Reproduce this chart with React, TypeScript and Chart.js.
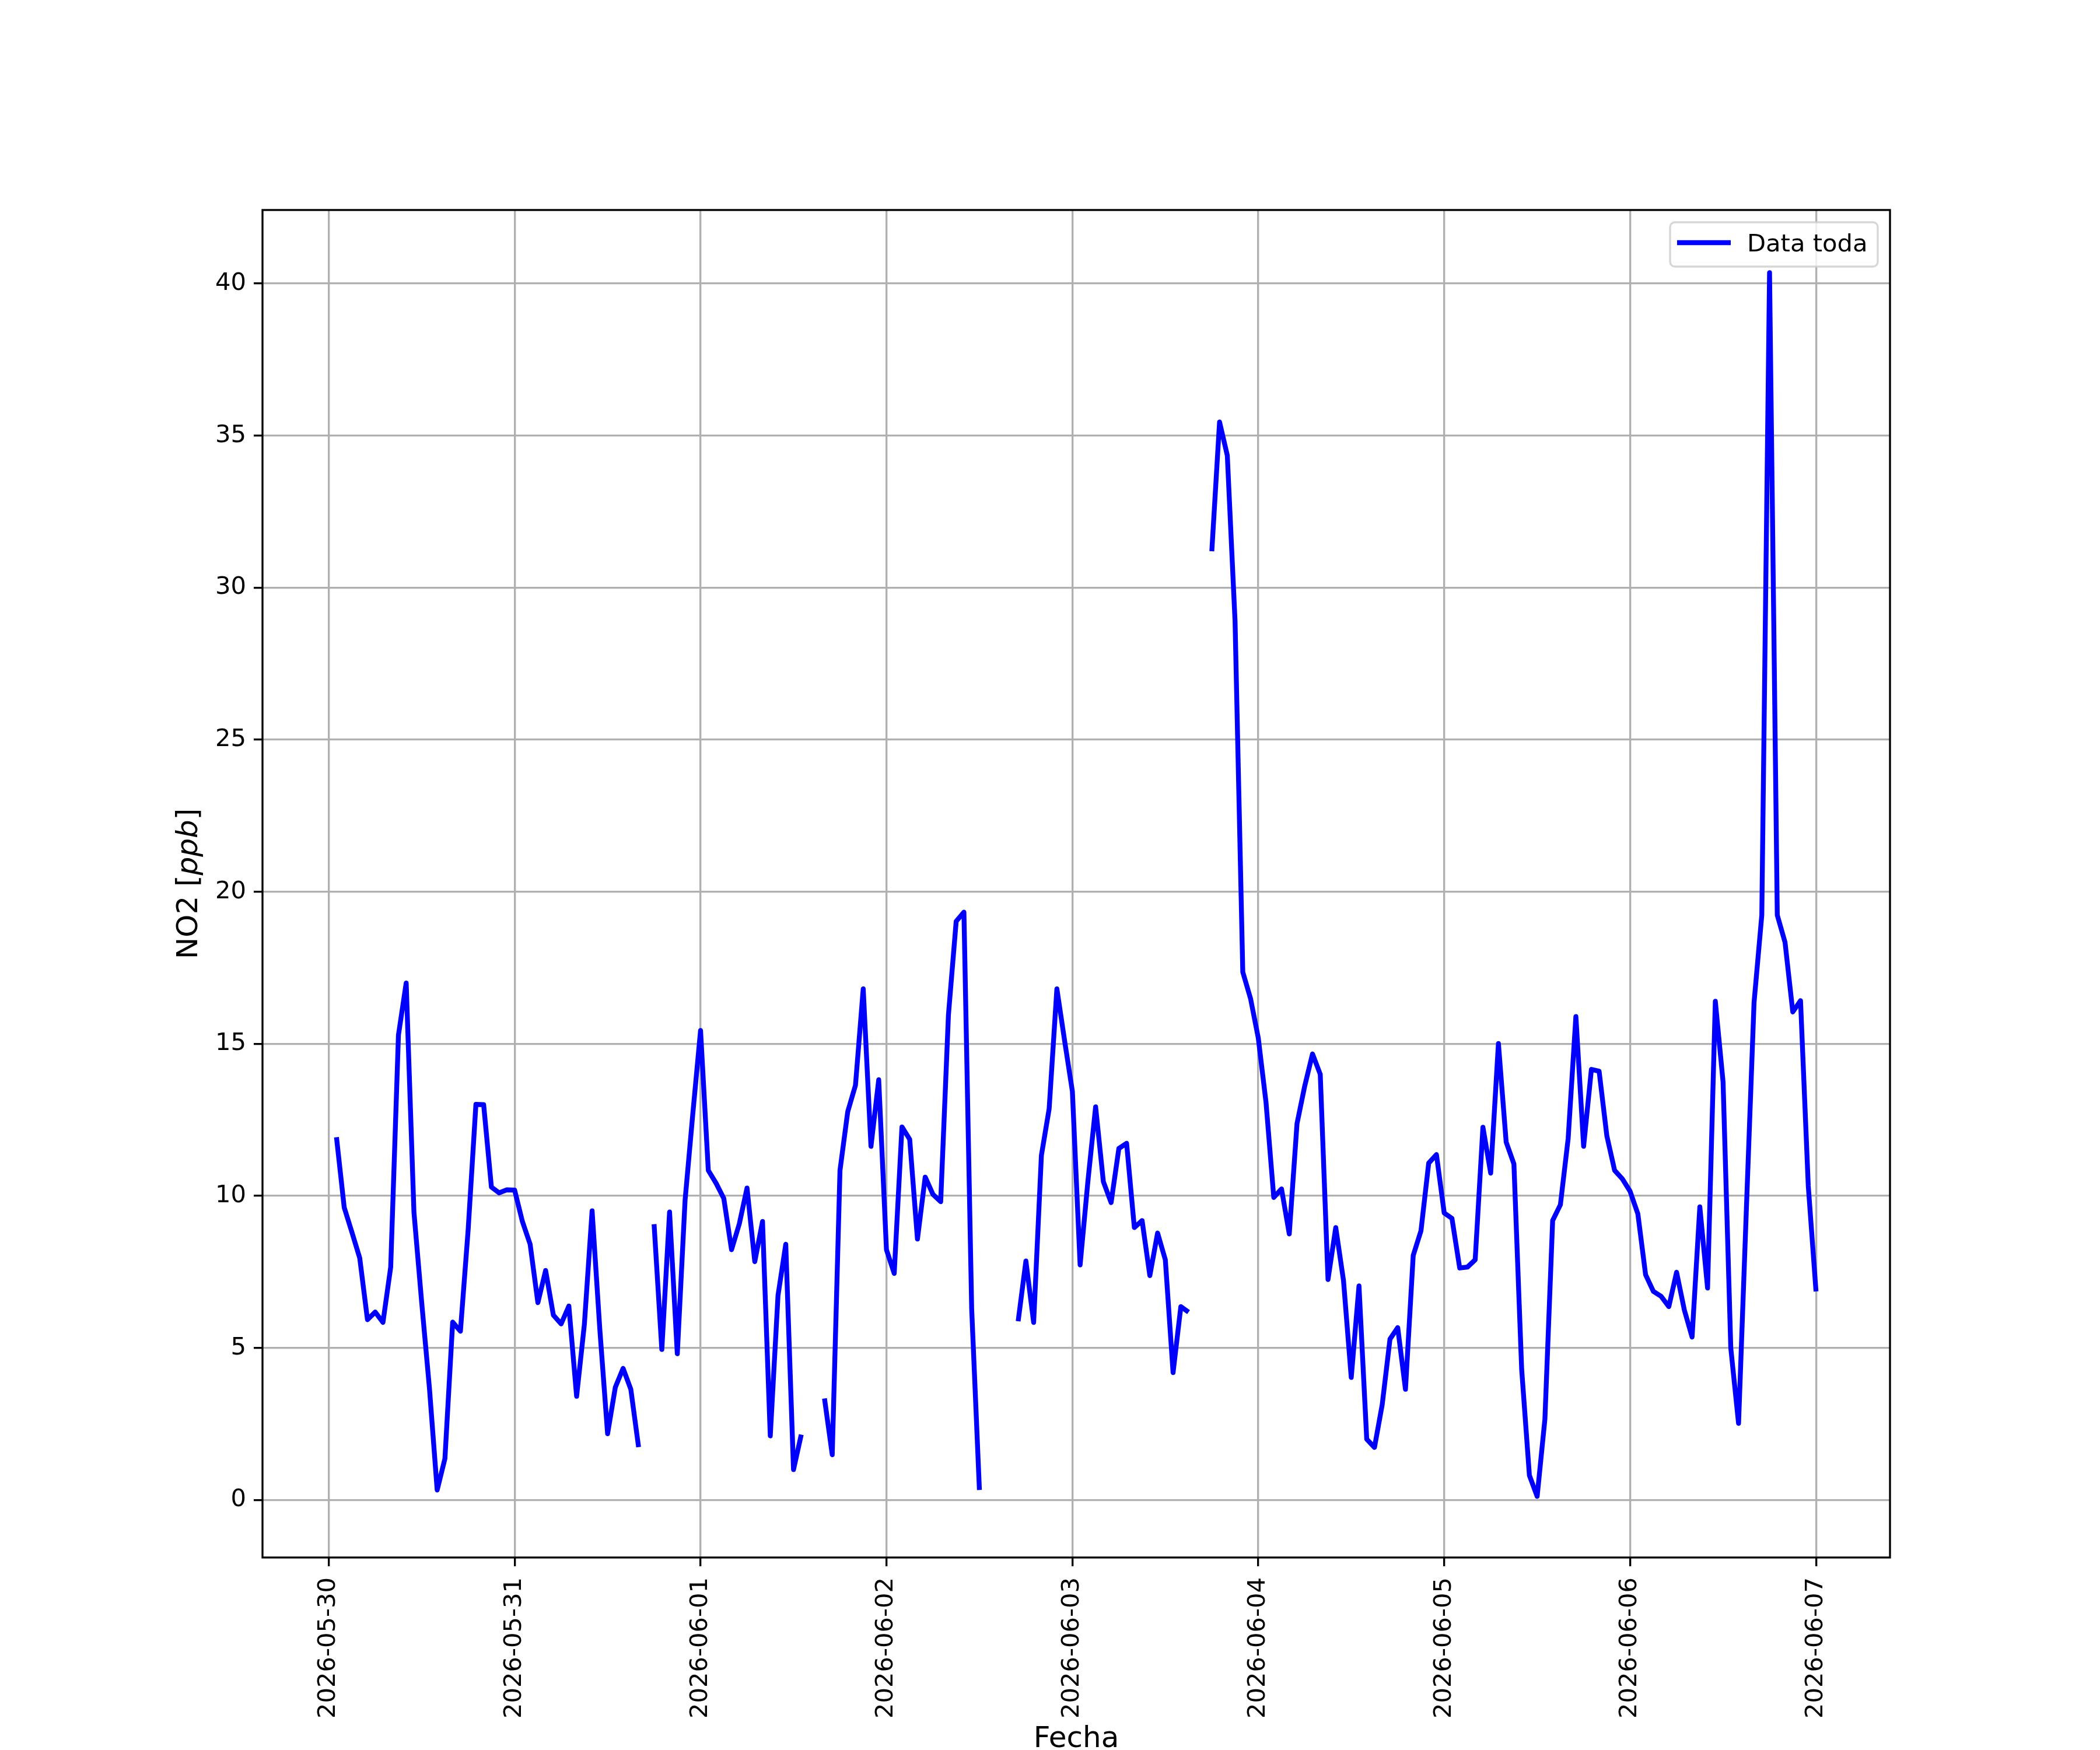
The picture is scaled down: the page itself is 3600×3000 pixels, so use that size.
import React, { useEffect, useRef } from 'react';
import { Chart, registerables } from 'chart.js';

Chart.register(...registerables);

// Tick labels / positions (hours since 2026-05-30 00:00)
const dayLabels = [
  '2026-05-30', '2026-05-31', '2026-06-01', '2026-06-02', '2026-06-03',
  '2026-06-04', '2026-06-05', '2026-06-06', '2026-06-07',
];
const dayTicks = [0, 24, 48, 72, 96, 120, 144, 168, 192];
const yTicks = [0, 5, 10, 15, 20, 25, 30, 35, 40];

const seriesLabel = 'Data toda';

// Hourly NO2 values [ppb] from 2026-05-30 01:00 to 2026-06-07 00:00 (null = missing)
const no2: (number | null)[] = [
  // 05-30 01..24
  11.93, 9.62, 8.8, 7.96, 5.93, 6.18, 5.84, 7.66, 15.29, 17.0, 9.47, 6.5,
  3.68, 0.33, 1.36, 5.85, 5.55, 8.89, 13.01, 13.0, 10.29, 10.1, 10.2, 10.19,
  // 05-31 01..24
  9.16, 8.41, 6.49, 7.55, 6.08, 5.79, 6.38, 3.41, 5.77, 9.51, 5.6, 2.18,
  3.71, 4.33, 3.64, 1.74, null, 9.07, 4.95, 9.47, 4.81, 9.85, 12.7, 15.44,
  // 06-01 01..24
  10.84, 10.42, 9.92, 8.23, 9.08, 10.26, 7.84, 9.16, 2.11, 6.73, 8.41, 1.0,
  2.15, null, null, 3.34, 1.49, 10.84, 12.77, 13.64, 16.81, 11.63, 13.82, 8.23,
  // 06-02 01..24
  7.45, 12.27, 11.86, 8.58, 10.62, 10.05, 9.81, 15.95, 19.03, 19.33, 6.29, 0.33,
  null, null, null, null, 5.88, 7.86, 5.84, 11.33, 12.86, 16.81, 15.1, 13.44,
  // 06-03 01..24
  7.73, 10.47, 12.93, 10.47, 9.78, 11.56, 11.73, 8.96, 9.19, 7.38, 8.78, 7.9,
  4.19, 6.36, 6.18, null, null, 31.2, 35.45, 34.35, 28.9, 17.36, 16.49, 15.19,
  // 06-04 01..24
  13.07, 9.95, 10.23, 8.75, 12.38, 13.62, 14.67, 14.0, 7.25, 8.96, 7.22, 4.03,
  7.04, 2.0, 1.73, 3.14, 5.29, 5.67, 3.64, 8.04, 8.85, 11.08, 11.36, 9.44,
  // 06-05 01..24
  9.26, 7.63, 7.66, 7.9, 12.26, 10.75, 15.01, 11.77, 11.05, 4.3, 0.81, 0.12,
  2.66, 9.19, 9.71, 11.88, 15.9, 11.63, 14.16, 14.1, 11.97, 10.84, 10.56, 10.15,
  // 06-06 01..24
  9.41, 7.41, 6.86, 6.7, 6.36, 7.49, 6.25, 5.36, 9.64, 6.97, 16.4, 13.75,
  4.99, 2.52, 9.5, 16.36, 19.23, 40.36, 19.23, 18.34, 16.05, 16.42, 10.33, 6.86,
];
const hours = no2.map((_, i) => i + 1);

const FONT = '"DejaVu Sans", "Liberation Sans", sans-serif';
const LINE_COLOR = '#0000ff';

const decorPlugin = {
  id: 'decor',
  beforeDraw(chart: any) {
    const { ctx, width, height } = chart;
    ctx.save();
    ctx.fillStyle = '#ffffff';
    ctx.fillRect(0, 0, width, height);
    ctx.restore();
  },
  afterDatasetsDraw(chart: any) {
    const { ctx, chartArea } = chart;
    ctx.save();
    ctx.strokeStyle = '#000000';
    ctx.lineWidth = 3.33;
    ctx.lineJoin = 'miter';
    ctx.strokeRect(chartArea.left, chartArea.top, chartArea.right - chartArea.left, chartArea.bottom - chartArea.top);
    ctx.restore();
  },
  afterDraw(chart: any) {
    const { ctx, chartArea } = chart;
    ctx.save();
    // x title
    ctx.fillStyle = '#000000';
    ctx.font = `50px ${FONT}`;
    ctx.textAlign = 'center';
    ctx.textBaseline = 'alphabetic';
    ctx.fillText('Fecha', (chartArea.left + chartArea.right) / 2, 2995);

    // y title with italic part
    const parts = [
      { t: 'NO2 [', f: `50px ${FONT}` },
      { t: 'ppb', f: `italic 50px ${FONT}` },
      { t: ']', f: `50px ${FONT}` },
    ];
    let total = 0;
    const widths = parts.map((p) => {
      ctx.font = p.f;
      const w = ctx.measureText(p.t).width;
      total += w;
      return w;
    });
    ctx.translate(338, (chartArea.top + chartArea.bottom) / 2);
    ctx.rotate(-Math.PI / 2);
    ctx.textAlign = 'left';
    let x = -total / 2;
    parts.forEach((p, i) => {
      ctx.font = p.f;
      ctx.fillText(p.t, x, 0);
      x += widths[i];
    });
    ctx.restore();

    // legend (upper right)
    const ds = chart.data.datasets[0];
    const bx = 2863, by = 381, bw = 356, bh = 76, r = 8.3;
    ctx.save();
    ctx.beginPath();
    ctx.moveTo(bx + r, by);
    ctx.lineTo(bx + bw - r, by);
    ctx.arcTo(bx + bw, by, bx + bw, by + r, r);
    ctx.lineTo(bx + bw, by + bh - r);
    ctx.arcTo(bx + bw, by + bh, bx + bw - r, by + bh, r);
    ctx.lineTo(bx + r, by + bh);
    ctx.arcTo(bx, by + bh, bx, by + bh - r, r);
    ctx.lineTo(bx, by + r);
    ctx.arcTo(bx, by, bx + r, by, r);
    ctx.closePath();
    ctx.fillStyle = 'rgba(255,255,255,0.8)';
    ctx.fill();
    ctx.strokeStyle = 'rgba(204,204,204,0.8)';
    ctx.lineWidth = 3.33;
    ctx.stroke();
    ctx.beginPath();
    ctx.moveTo(2875, 416);
    ctx.lineTo(2967, 416);
    ctx.strokeStyle = ds.borderColor;
    ctx.lineWidth = ds.borderWidth;
    ctx.lineCap = 'butt';
    ctx.stroke();
    ctx.fillStyle = '#000000';
    ctx.font = `41.67px ${FONT}`;
    ctx.textAlign = 'left';
    ctx.textBaseline = 'alphabetic';
    ctx.fillText(ds.label, 2995, 431);
    ctx.restore();
  },
};

export default function App() {
  const ref = useRef<HTMLCanvasElement | null>(null);

  useEffect(() => {
    if (!ref.current) return;
    Chart.defaults.font.family = FONT;
    const chart = new Chart(ref.current, {
      type: 'line',
      data: {
        datasets: [
          {
            label: seriesLabel,
            data: hours.map((h, i) => ({ x: h, y: no2[i] })),
            borderColor: LINE_COLOR,
            borderWidth: 8.33,
            pointRadius: 0,
            pointHoverRadius: 0,
            fill: false,
            spanGaps: false,
            tension: 0,
            borderJoinStyle: 'round',
            borderCapStyle: 'butt',
          } as any,
        ],
      },
      options: {
        animation: false,
        responsive: false,
        devicePixelRatio: 1,
        events: [],
        layout: { padding: { left: 0, top: 360, right: 360, bottom: 0 } },
        plugins: {
          legend: { display: false },
          tooltip: { enabled: false },
          title: { display: false },
        },
        scales: {
          x: {
            type: 'linear',
            min: -8.55,
            max: 201.55,
            afterBuildTicks: (s: any) => {
              s.ticks = dayTicks.map((v) => ({ value: v }));
            },
            afterFit: (s: any) => {
              s.height = 330;
            },
            ticks: {
              autoSkip: false,
              maxRotation: 90,
              minRotation: 90,
              padding: 19,
              color: '#000000',
              font: { size: 41.67, family: FONT },
              callback: (_v: any, i: number) => dayLabels[i],
            },
            grid: {
              color: '#b0b0b0',
              lineWidth: 3.33,
              tickColor: '#000000',
              tickWidth: 3.33,
              tickLength: 15,
              drawTicks: true,
            },
            border: { display: false },
          },
          y: {
            type: 'linear',
            min: -1.89,
            max: 42.42,
            afterBuildTicks: (s: any) => {
              s.ticks = yTicks.map((v) => ({ value: v }));
            },
            afterFit: (s: any) => {
              s.width = 450;
            },
            ticks: {
              autoSkip: false,
              padding: 13,
              color: '#000000',
              font: { size: 41.67, family: FONT },
              callback: (v: any) => String(v),
            },
            grid: {
              color: '#b0b0b0',
              lineWidth: 3.33,
              tickColor: '#000000',
              tickWidth: 3.33,
              tickLength: 15,
              drawTicks: true,
            },
            border: { display: false },
          },
        },
      } as any,
      plugins: [decorPlugin],
    });
    return () => chart.destroy();
  }, []);

  return (
    <div style={{ position: 'absolute', left: 0, top: 0, width: 3600, height: 3000 }}>
      <canvas ref={ref} width={3600} height={3000} style={{ width: 3600, height: 3000, display: 'block' }} />
    </div>
  );
}
